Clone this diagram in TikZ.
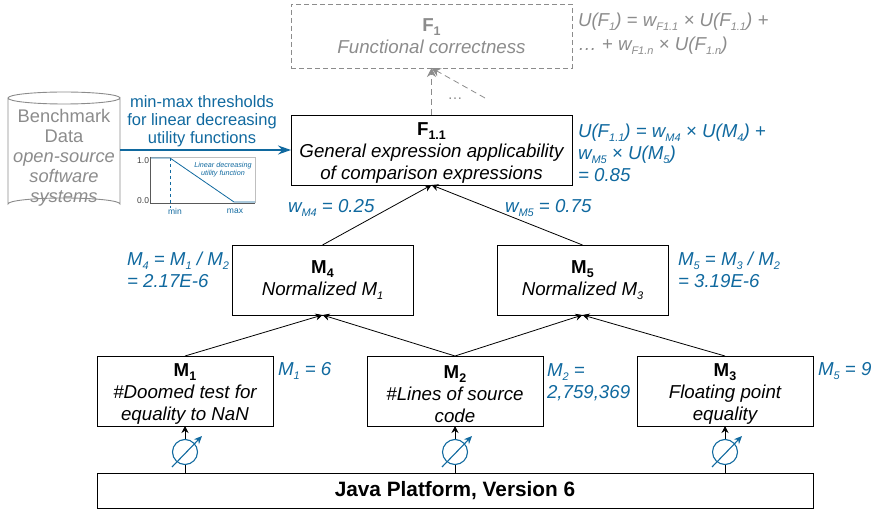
\documentclass[tikz,border=0pt]{standalone}
\usepackage{fontspec}
\setmainfont{Liberation Sans}
\usetikzlibrary{arrows.meta}
\definecolor{bl}{HTML}{10699F}
\definecolor{gy}{HTML}{8C8C8C}
\newcommand{\sbs}[1]{\raisebox{-0.2em}{\fontsize{11}{11}\selectfont #1}}
\newcommand{\sbt}[1]{\raisebox{-0.2em}{\fontsize{12.5}{11}\selectfont\bfseries #1}}
\newcommand{\hstrut}{\rule{0pt}{19pt}}
\tikzset{
 x=1pt,y=-1pt,
 every node/.style={inner sep=0pt,outer sep=0pt},
 txt/.style={font=\fontsize{18.7}{22}\selectfont,align=center,text=black},
 boxn/.style={draw=black,line width=0.9pt,fill=white,txt,anchor=center},
 gbox/.style={draw=gy,line width=0.9pt,dash pattern=on 5pt off 3pt,txt,text=gy,anchor=center},
 lab/.style={font=\fontsize{18.7}{21.8}\selectfont\itshape,text=bl,align=left,anchor=west},
 glab/.style={lab,text=gy},
 arr/.style={-{Stealth[length=7pt,width=7pt]},line width=0.8pt,black},
 garr/.style={-{Stealth[length=9pt,width=9pt]},line width=0.8pt,gy,dash pattern=on 6pt off 4pt},
 barr/.style={-{Stealth[length=13pt,width=9pt]},line width=1.3pt,bl},
 small/.style={font=\fontsize{8.5}{10}\selectfont,text=black!75},
 smallb/.style={font=\fontsize{8.5}{10}\selectfont,text=bl},
}
\begin{document}
\begin{tikzpicture}
\useasboundingbox (0,0) rectangle (874,510);
% boxes
\node[gbox,minimum width=281pt,minimum height=64pt] (F1) at (431.5,36) {{\bfseries F\sbt{1}}\\\itshape Functional correctness};
\node[boxn,minimum width=281pt,minimum height=70pt] (F11) at (431.5,150) {\hstrut{\bfseries F\sbt{1.1}}\\\itshape General expression applicability\\\itshape of comparison expressions};
\node[boxn,minimum width=181pt,minimum height=70pt] (M4) at (322.5,280) {{\bfseries M\sbt{4}}\\\itshape Normalized M\sbs{1}};
\node[boxn,minimum width=171pt,minimum height=70pt] (M5) at (582.5,280) {{\bfseries M\sbt{5}}\\\itshape Normalized M\sbs{3}};
\node[boxn,minimum width=176pt,minimum height=70pt] (M1) at (185,391) {\hstrut{\bfseries M\sbt{1}}\\\itshape \#Doomed test for\\\itshape equality to NaN};
\node[boxn,minimum width=176pt,minimum height=70pt] (M2) at (455,391) {\hstrut{\bfseries M\sbt{2}}\\\itshape \#Lines of source\\\itshape code};
\node[boxn,minimum width=176pt,minimum height=70pt] (M3) at (725,391) {\hstrut{\bfseries M\sbt{3}}\\\itshape Floating point\\\itshape equality};
\node[boxn,minimum width=716pt,minimum height=35pt,font=\fontsize{20.8}{22}\selectfont\bfseries] (J) at (455,490.5) {Java Platform, Version 6};
% edges
\draw[arr] (M4.north) -- (F11.south);
\draw[arr] (M5.north) -- (F11.south);
\draw[arr] (M1.north) -- (M4.south);
\draw[arr] (M2.north) -- (M4.south);
\draw[arr] (M2.north) -- (M5.south);
\draw[arr] (M3.north) -- (M5.south);
\coordinate (dots) at (485,98);
\draw[garr] (F11.north) -- (F1.south);
\draw[garr] (dots) -- (F1.south);
\node[font=\fontsize{15}{18}\selectfont,text=gy] (dt) at (455,99) {…};
% meters
\foreach \n/\x in {a/185,b/455,c/725}{
  \coordinate (base\n) at (\x,473);
  \coordinate (top\n) at (\x,426);
  \draw[arr] (base\n) -- (top\n);
  \draw[bl,line width=1.1pt,fill=white] (\x,452) circle (12.5);
  \draw[bl,line width=1.1pt,-{Stealth[length=8pt,width=7pt]}] (\x-13,467) -- (\x+17,436);
}
% cylinder
\node[minimum width=112pt,minimum height=115pt] (DB) at (64,150) {};
\draw[gy,line width=0.9pt,fill=white] (8,98) -- (8,204) arc[start angle=180,end angle=360,x radius=56,y radius=6] -- (120,98) arc[start angle=0,end angle=360,x radius=56,y radius=6];
\node[font=\fontsize{18.3}{20}\selectfont,text=gy,align=center] (dbt) at (64,158) {Benchmark\\Data\\\itshape open-source\\\itshape software\\\itshape systems};
% threshold arrow
\draw[barr] (DB.east) -- (F11.west);
\node[font=\fontsize{16.5}{18}\selectfont,text=bl,align=center] (tl) at (202,121) {min-max thresholds\\for linear decreasing\\utility functions};
% chart
\coordinate (o) at (150,203);
\coordinate (t) at (150,157);
\coordinate (r) at (255,203);
\coordinate (tr) at (255,157);
\draw[black!25,line width=0.8pt] (t) -- (tr) -- (r);
\draw[black!65,line width=0.7pt] (t) -- (o) -- (r);
\draw[bl,line width=0.8pt] (151,158) -- (170,158) -- (234,202) -- (255,202);
\draw[bl,line width=0.8pt,dashed] (170,158) -- (170,208);
\node[small,anchor=east] (v1) at (149,161) {1.0};
\node[small,anchor=east] (v0) at (149,201) {0.0};
\node[smallb] (mn) at (175,211) {min};
\node[smallb] (mx) at (235,211) {max};
\node[font=\fontsize{7.2}{8.5}\selectfont\itshape,text=bl,align=center] (cap) at (223,169.5) {Linear decreasing\\utility function};
% labels
\node[glab] (l1) at (578,34) {U(F\sbs{1}) = w\sbs{F1.1} × U(F\sbs{1.1}) +\\[2.5pt]… + w\sbs{F1.n} × U(F\sbs{1.n})};
\node[lab] (l2) at (578,153) {U(F\sbs{1.1}) = w\sbs{M4} × U(M\sbs{4}) +\\w\sbs{M5} × U(M\sbs{5})\\= 0.85};
\node[lab] (l3) at (288,208) {w\sbs{M4} = 0.25};
\node[lab] (l4) at (505,208) {w\sbs{M5} = 0.75};
\node[lab] (l5) at (127,270) {M\sbs{4} = M\sbs{1} / M\sbs{2}\\= 2.17E-6};
\node[lab] (l6) at (678,270) {M\sbs{5} = M\sbs{3} / M\sbs{2}\\= 3.19E-6};
\node[lab] (l7) at (278,371) {M\sbs{1} = 6};
\node[lab] (l8) at (547,382) {M\sbs{2} =\\2,759,369};
\node[lab] (l9) at (818,371) {M\sbs{5} = 9};
\end{tikzpicture}
\end{document}
